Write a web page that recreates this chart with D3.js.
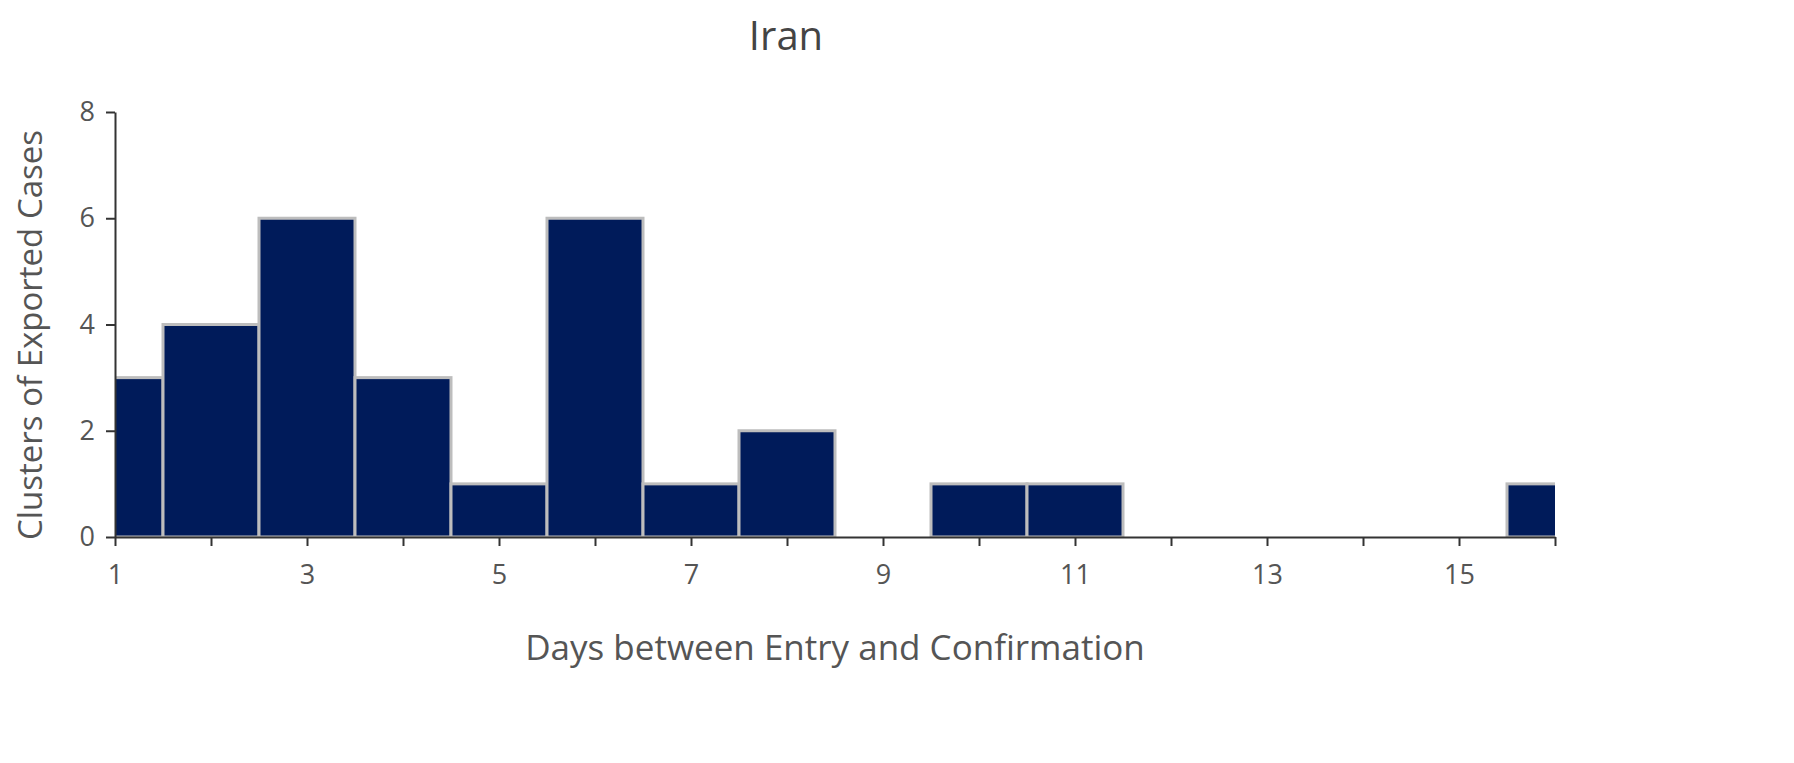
<!DOCTYPE html>
<html>
<head>
<meta charset="utf-8">
<script src="https://cdn.jsdelivr.net/npm/d3@7"></script>
<style>
  body { margin: 0; background: #fff; }
  text { font-family: "Open Sans", "DejaVu Sans", sans-serif; }
</style>
</head>
<body>
<svg id="chart" width="1794" height="763"></svg>
<script>
// chart data
const days = [1, 2, 3, 4, 5, 6, 7, 8, 9, 10, 11, 12, 13, 14, 15, 16];
const clusters = [3, 4, 6, 3, 1, 6, 1, 2, 0, 1, 1, 0, 0, 0, 0, 1];
const xTickLabels = [1, 3, 5, 7, 9, 11, 13, 15];
const yTicks = [0, 2, 4, 6, 8];

const svg = d3.select("#chart");
const margin = { left: 115, right: 239, top: 112, bottom: 226 };
const width = 1794 - margin.left - margin.right;
const height = 763 - margin.top - margin.bottom;

const x = d3.scaleLinear().domain([1, 16]).range([0, width]);
const y = d3.scaleLinear().domain([0, 8]).range([height, 0]);

const g = svg.append("g").attr("transform", `translate(${margin.left},${margin.top})`);

// bars, clipped at the axis ends
g.append("clipPath").attr("id", "plot")
  .append("rect").attr("x", 0).attr("y", -5).attr("width", width).attr("height", height + 5);

g.append("g").attr("clip-path", "url(#plot)")
  .selectAll("rect")
  .data(days.map((d, i) => ({ day: d, v: clusters[i] })).filter(d => d.v > 0))
  .join("rect")
  .attr("x", d => x(d.day - 0.5))
  .attr("width", d => x(d.day + 0.5) - x(d.day - 0.5))
  .attr("y", d => y(d.v))
  .attr("height", d => y(0) - y(d.v))
  .attr("fill", "#001b5a")
  .attr("stroke", "#bdbdbd")
  .attr("stroke-width", 3);

// x axis: ticks on every day, labels on odd days
const xAxis = g.append("g").attr("transform", `translate(0,${height})`)
  .call(d3.axisBottom(x).tickValues(days).tickSize(9).tickSizeOuter(0)
    .tickFormat(d => xTickLabels.includes(d) ? d : ""));

// y axis
const yAxis = g.append("g")
  .call(d3.axisLeft(y).tickValues(yTicks).tickSize(9).tickSizeOuter(0));

[xAxis, yAxis].forEach(a => {
  a.select(".domain").attr("stroke", "#333").attr("stroke-width", 2);
  a.selectAll(".tick line").attr("stroke", "#333").attr("stroke-width", 2);
  a.selectAll(".tick text").attr("fill", "#555").style("font-size", "27px");
});
xAxis.selectAll(".tick text").attr("dy", "1.3em");
yAxis.selectAll(".tick text").attr("dx", "-0.3em");

// title and axis labels
svg.append("text").attr("x", 786).attr("y", 50).attr("text-anchor", "middle")
  .attr("fill", "#444").style("font-size", "40px").text("Iran");

svg.append("text").attr("x", 835).attr("y", 660).attr("text-anchor", "middle")
  .attr("fill", "#555").style("font-size", "35px").text("Days between Entry and Confirmation");

svg.append("text").attr("transform", "translate(42,335) rotate(-90)").attr("text-anchor", "middle")
  .attr("fill", "#555").style("font-size", "33px").text("Clusters of Exported Cases");
</script>
</body>
</html>
